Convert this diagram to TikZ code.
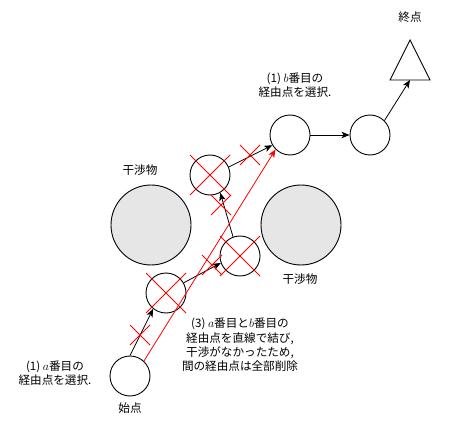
\documentclass[tikz,border=0pt]{standalone}
\usepackage{fontspec}
\setmainfont{Noto Sans CJK JP}
\usetikzlibrary{arrows.meta}
\definecolor{obsgray}{HTML}{E6E6E6}
\begin{document}
\begin{tikzpicture}[x=1pt,y=-1pt,
  wpt/.style={circle,draw=black,line width=0.9pt,minimum size=40pt,inner sep=0pt},
  obst/.style={circle,draw=black,fill=obsgray,line width=0.9pt,minimum size=80pt,inner sep=0pt},
  lbl/.style={align=center,inner sep=0pt,font=\fontsize{11.6}{14.4}\selectfont},
  conn/.style={draw=black,line width=0.8pt,-{Stealth[length=8pt,width=6.5pt,inset=2pt]}},
  rconn/.style={draw=red,line width=0.8pt,-{Stealth[length=8pt,width=6.5pt,inset=2pt]}},
  bigx/.pic={\draw[red,line width=0.8pt] (-20,-20)--(20,20) (-20,20)--(20,-20);},
  smallx/.pic={\draw[red,line width=0.8pt] (-10,-10)--(10,10) (-10,10)--(10,-10);}
]
\useasboundingbox (0,0) rectangle (450,425);
% obstacles
\node[obst] (obs1) at (151,225) {};
\node[obst] (obs2) at (301,225) {};
\node[lbl] (obs1lbl) at (140,170) {干渉物};
\node[lbl] (obs2lbl) at (300,279) {干渉物};
% waypoints
\node[wpt] (start) at (130,376) {};
\node[wpt] (wp1) at (166,293) {};
\node[wpt] (wp2) at (240,256) {};
\node[wpt] (wp3) at (210,175) {};
\node[wpt] (wp4) at (290,135) {};
\node[wpt] (wp5) at (370,135) {};
% goal triangle
\draw[line width=0.9pt] (410,40) -- (430,80) -- (390,80) -- cycle;
\coordinate (goal) at (410,80);
\node[lbl] (startlbl) at (130,408) {始点};
\node[lbl] (goallbl) at (410,17) {終点};
% connectors
\draw[conn] (start.90) -- (wp1.231);
\draw[conn] (wp1.30) -- (wp2.200);
\draw[conn] (wp2.110) -- (wp3.300);
\draw[conn] (wp3.23) -- (wp4.210);
\draw[conn] (wp4.east) -- (wp5.west);
\draw[conn] (wp5.45) -- (goal);
\draw[rconn] (start.47) -- (wp4.225);
% crosses
\pic at (wp1) {bigx};
\pic at (wp2) {bigx};
\pic at (wp3) {bigx};
\pic at (140,335) {smallx};
\pic at (212,265) {smallx};
\pic at (221,205) {smallx};
\pic at (250,155) {smallx};
% labels
\node[lbl] (lbla) at (55,373) {(1) $a$番目の\\経由点を選択.};
\node[lbl] (lblb) at (295,85) {(1) $b$番目の\\経由点を選択.};
\node[lbl] (lbl3) at (240,345) {(3) $a$番目と$b$番目の\\経由点を直線で結び,\\干渉がなかったため,\\間の経由点は全部削除};
\end{tikzpicture}
\end{document}
